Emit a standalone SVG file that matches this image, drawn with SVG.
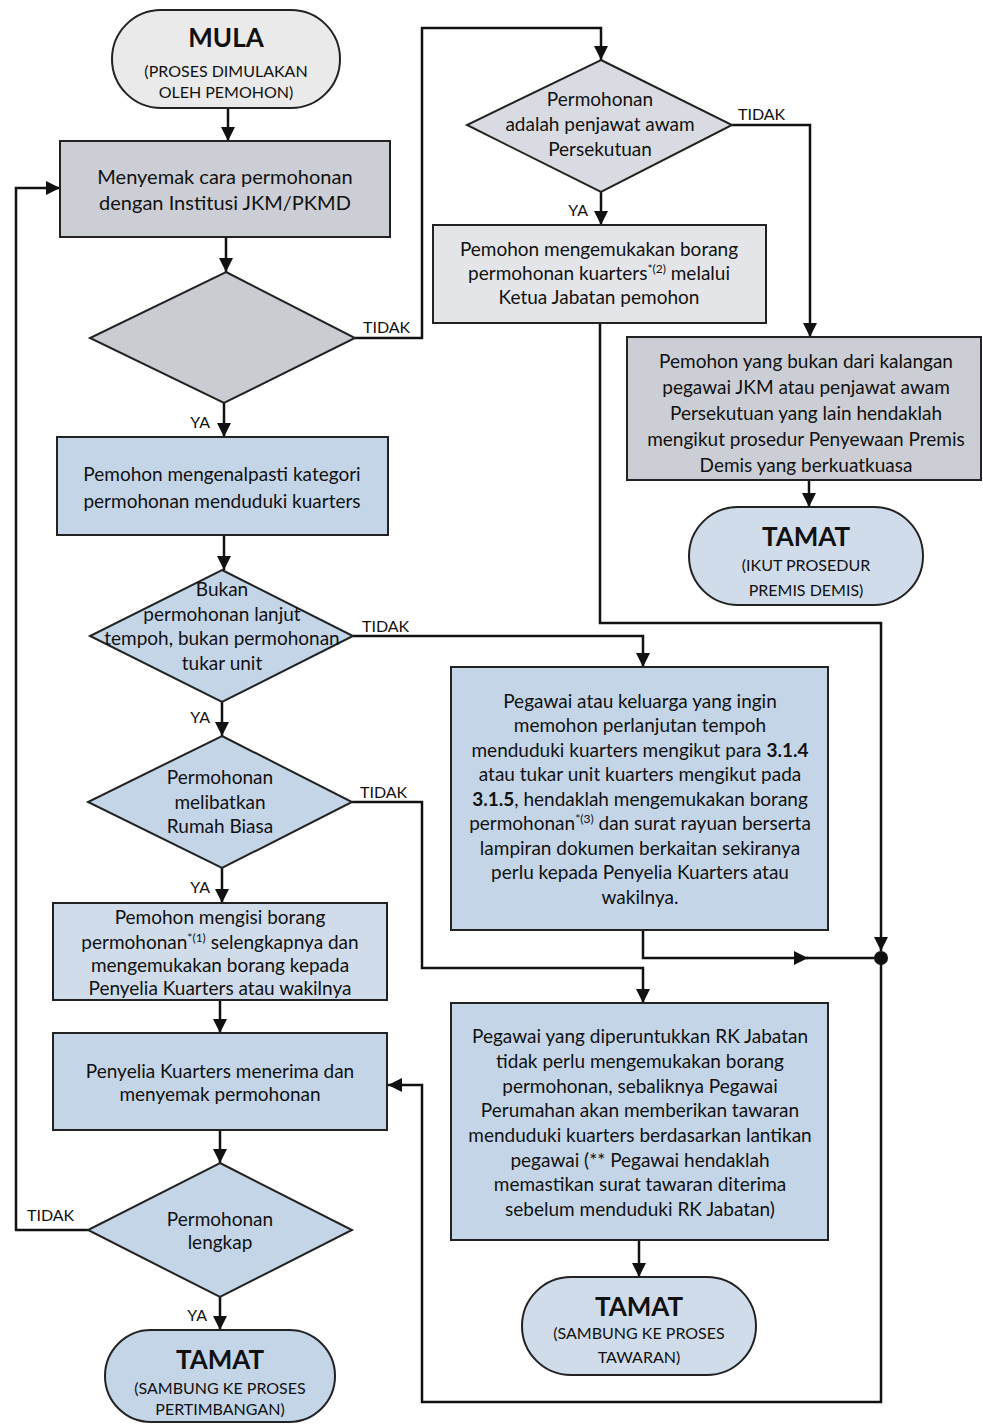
<svg xmlns="http://www.w3.org/2000/svg" width="983" height="1425" viewBox="0 0 983 1425">
<defs>
<marker id="ah" markerUnits="userSpaceOnUse" markerWidth="14" markerHeight="14" viewBox="0 0 14 14" refX="14" refY="7" orient="auto">
<path d="M0,0 L14,7 L0,14 z" fill="#111"/>
</marker>
</defs>
<style>
.shape{stroke:#222;stroke-width:2}
.gray{fill:#cbced4}
.lgray{fill:#e3e5e9}
.blue{fill:#c4d5e8}
.lblue{fill:#d0dcea}
.t{font-family:Lato,'Open Sans',sans-serif;font-size:19px;fill:#111;text-anchor:middle}
.big{font-size:26px;font-weight:bold}
.sm{font-size:16px}
.lbl{font-family:Lato,'Open Sans',sans-serif;font-size:16px;fill:#111}
.end{text-anchor:end}
.conn{fill:none;stroke:#111;stroke-width:2.5}
.sup{font-size:12px}
</style>
<rect width="983" height="1425" fill="#ffffff"/>

<g id="connectors">
<path class="conn" d="M228,108 V141" marker-end="url(#ah)"/>
<path class="conn" d="M226,237 V272" marker-end="url(#ah)"/>
<path class="conn" d="M355,338 H422 V28 H601 V60" marker-end="url(#ah)"/>
<path class="conn" d="M224,403 V437" marker-end="url(#ah)"/>
<path class="conn" d="M601,192 V225" marker-end="url(#ah)"/>
<path class="conn" d="M732,125 H810 V337" marker-end="url(#ah)"/>
<path class="conn" d="M809,480 V507" marker-end="url(#ah)"/>
<path class="conn" d="M224,535 V570" marker-end="url(#ah)"/>
<path class="conn" d="M353,636 H643 V667" marker-end="url(#ah)"/>
<path class="conn" d="M222,702 V736" marker-end="url(#ah)"/>
<path class="conn" d="M352,802 H422 V968 H643 V1003" marker-end="url(#ah)"/>
<path class="conn" d="M222,868 V903" marker-end="url(#ah)"/>
<path class="conn" d="M220,1000 V1033" marker-end="url(#ah)"/>
<path class="conn" d="M220,1130 V1163" marker-end="url(#ah)"/>
<path class="conn" d="M220,1297 V1330" marker-end="url(#ah)"/>
<path class="conn" d="M88,1230 H16 V188 H60" marker-end="url(#ah)"/>
<path class="conn" d="M600,323 V623 H881 V951" marker-end="url(#ah)"/>
<path class="conn" d="M643,930 V958 H808" marker-end="url(#ah)"/>
<path class="conn" d="M806,958 H875"/>
<path class="conn" d="M881,958 V1402 H422 V1085 H388" marker-end="url(#ah)"/>
<path class="conn" d="M639,1240 V1277" marker-end="url(#ah)"/>
<circle cx="881" cy="958" r="7" fill="#111"/>
<text class="lbl" x="363" y="333">TIDAK</text>
<text class="lbl end" x="210" y="428">YA</text>
<text class="lbl" x="738" y="120">TIDAK</text>
<text class="lbl end" x="588" y="216">YA</text>
<text class="lbl" x="362" y="632">TIDAK</text>
<text class="lbl end" x="210" y="723">YA</text>
<text class="lbl" x="360" y="798">TIDAK</text>
<text class="lbl end" x="210" y="893">YA</text>
<text class="lbl" x="27" y="1221">TIDAK</text>
<text class="lbl end" x="207" y="1321">YA</text>
</g>

<g id="mula">
<rect class="shape" x="112" y="10" width="228" height="98" rx="49" fill="#eaeaea"/>
<text class="t big" x="226" y="47">MULA</text>
<text class="t sm" x="226" y="77">(PROSES DIMULAKAN</text>
<text class="t sm" x="226" y="98">OLEH PEMOHON)</text>
</g>

<g id="menyemak">
<rect class="shape gray" x="60" y="141" width="330" height="96"/>
<text class="t" x="225" y="184" style="font-size:20px">Menyemak cara permohonan</text>
<text class="t" x="225" y="210" style="font-size:20px">dengan Institusi JKM/PKMD</text>
</g>

<g id="keputusan1">
<polygon class="shape" points="226,272 355,338 224,403 90,338" fill="#c9ccd1"/>
</g>

<g id="penjawat">
<polygon class="shape" points="601,60 732,125 601,192 467,125" fill="#d8dce2"/>
<text class="t" x="600" y="106">Permohonan</text>
<text class="t" x="600" y="131">adalah penjawat awam</text>
<text class="t" x="600" y="156">Persekutuan</text>
</g>

<g id="mengemukakan">
<rect class="shape lgray" x="433" y="225" width="333" height="98"/>
<text class="t" x="599" y="256">Pemohon mengemukakan borang</text>
<text class="t" x="599" y="280">permohonan kuarters<tspan class="sup" dy="-7">*(2)</tspan><tspan dy="7"> melalui</tspan></text>
<text class="t" x="599" y="304">Ketua Jabatan pemohon</text>
</g>

<g id="bukanpegawai">
<rect class="shape gray" x="627" y="337" width="354" height="143"/>
<text class="t" x="806" y="368">Pemohon yang bukan dari kalangan</text>
<text class="t" x="806" y="394">pegawai JKM atau penjawat awam</text>
<text class="t" x="806" y="420">Persekutuan yang lain hendaklah</text>
<text class="t" x="806" y="446">mengikut prosedur Penyewaan Premis</text>
<text class="t" x="806" y="472">Demis yang berkuatkuasa</text>
</g>

<g id="tamat-premis">
<rect class="shape lblue" x="689" y="507" width="234" height="98" rx="49"/>
<text class="t big" x="806" y="546">TAMAT</text>
<text class="t sm" x="806" y="571">(IKUT PROSEDUR</text>
<text class="t sm" x="806" y="596">PREMIS DEMIS)</text>
</g>

<g id="kategori">
<rect class="shape blue" x="57" y="437" width="331" height="98"/>
<text class="t" x="222" y="481">Pemohon mengenalpasti kategori</text>
<text class="t" x="222" y="508">permohonan menduduki kuarters</text>
</g>

<g id="keputusan-lanjut">
<polygon class="shape blue" points="222,570 353,636 222,702 90,636"/>
<text class="t" x="222" y="596">Bukan</text>
<text class="t" x="222" y="621">permohonan lanjut</text>
<text class="t" x="222" y="645">tempoh, bukan permohonan</text>
<text class="t" x="222" y="670">tukar unit</text>
</g>

<g id="keputusan-rumah">
<polygon class="shape blue" points="222,736 352,802 222,868 88,802"/>
<text class="t" x="220" y="784">Permohonan</text>
<text class="t" x="220" y="809">melibatkan</text>
<text class="t" x="220" y="833">Rumah Biasa</text>
</g>

<g id="mengisi">
<rect class="shape lblue" x="53" y="903" width="334" height="97"/>
<text class="t" x="220" y="924">Pemohon mengisi borang</text>
<text class="t" x="220" y="949">permohonan<tspan class="sup" dy="-7">*(1)</tspan><tspan dy="7"> selengkapnya dan</tspan></text>
<text class="t" x="220" y="972">mengemukakan borang kepada</text>
<text class="t" x="220" y="995">Penyelia Kuarters atau wakilnya</text>
</g>

<g id="penyelia">
<rect class="shape blue" x="53" y="1033" width="334" height="97"/>
<text class="t" x="220" y="1078">Penyelia Kuarters menerima dan</text>
<text class="t" x="220" y="1101">menyemak permohonan</text>
</g>

<g id="keputusan-lengkap">
<polygon class="shape blue" points="220,1163 352,1230 220,1297 88,1230"/>
<text class="t" x="220" y="1226">Permohonan</text>
<text class="t" x="220" y="1249">lengkap</text>
</g>

<g id="tamat-pertimbangan">
<rect class="shape blue" x="105" y="1330" width="230" height="92" rx="46"/>
<text class="t big" x="220" y="1369">TAMAT</text>
<text class="t sm" x="220" y="1394">(SAMBUNG KE PROSES</text>
<text class="t sm" x="220" y="1415">PERTIMBANGAN)</text>
</g>

<g id="perlanjutan">
<rect class="shape blue" x="451" y="667" width="377" height="263"/>
<text class="t" x="640" y="708">Pegawai atau keluarga yang ingin</text>
<text class="t" x="640" y="732">memohon perlanjutan tempoh</text>
<text class="t" x="640" y="757">menduduki kuarters mengikut para <tspan font-weight="bold">3.1.4</tspan></text>
<text class="t" x="640" y="781">atau tukar unit kuarters mengikut pada</text>
<text class="t" x="640" y="806"><tspan font-weight="bold">3.1.5</tspan>, hendaklah mengemukakan borang</text>
<text class="t" x="640" y="830">permohonan<tspan class="sup" dy="-7">*(3)</tspan><tspan dy="7"> dan surat rayuan berserta</tspan></text>
<text class="t" x="640" y="855">lampiran dokumen berkaitan sekiranya</text>
<text class="t" x="640" y="879">perlu kepada Penyelia Kuarters atau</text>
<text class="t" x="640" y="904">wakilnya.</text>
</g>

<g id="rk-jabatan">
<rect class="shape blue" x="451" y="1003" width="377" height="237"/>
<text class="t" x="640" y="1043">Pegawai yang diperuntukkan RK Jabatan</text>
<text class="t" x="640" y="1068">tidak perlu mengemukakan borang</text>
<text class="t" x="640" y="1093">permohonan, sebaliknya Pegawai</text>
<text class="t" x="640" y="1117">Perumahan akan memberikan tawaran</text>
<text class="t" x="640" y="1142">menduduki kuarters berdasarkan lantikan</text>
<text class="t" x="640" y="1167">pegawai (** Pegawai hendaklah</text>
<text class="t" x="640" y="1191">memastikan surat tawaran diterima</text>
<text class="t" x="640" y="1216">sebelum menduduki RK Jabatan)</text>
</g>

<g id="tamat-tawaran">
<rect class="shape lblue" x="522" y="1277" width="234" height="98" rx="49"/>
<text class="t big" x="639" y="1316">TAMAT</text>
<text class="t sm" x="639" y="1339">(SAMBUNG KE PROSES</text>
<text class="t sm" x="639" y="1363">TAWARAN)</text>
</g>
</svg>
